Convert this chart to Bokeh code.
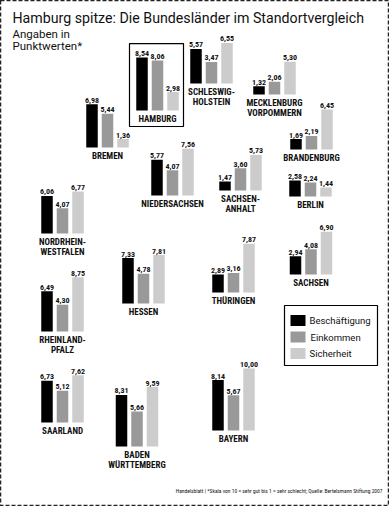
from bokeh.plotting import figure
from bokeh.models import ColumnDataSource, Range1d
from bokeh.core.properties import value
from bokeh.embed import file_html
from bokeh.resources import INLINE

# ---- data ----
states = ["HAMBURG", "SCHLESWIG-\nHOLSTEIN", "MECKLENBURG\nVORPOMMERN", "BREMEN", "BRANDENBURG",
          "NIEDERSACHSEN", "SACHSEN-\nANHALT", "BERLIN", "NORDRHEIN-\nWESTFALEN", "HESSEN",
          "THÜRINGEN", "SACHSEN", "RHEINLAND-\nPFALZ", "SAARLAND", "BADEN\nWÜRTTEMBERG", "BAYERN"]
beschaeftigung = [8.54, 5.57, 1.32, 6.98, 1.69, 5.77, 1.47, 2.58, 6.06, 7.33, 2.89, 2.94, 6.49, 6.73, 8.31, 8.14]
einkommen = [8.06, 3.47, 2.06, 5.44, 2.19, 4.07, 3.60, 2.24, 4.07, 4.78, 3.16, 4.08, 4.30, 5.12, 5.66, 5.67]
sicherheit = [2.98, 6.55, 5.30, 1.36, 6.45, 7.56, 5.73, 1.44, 6.77, 7.81, 7.87, 6.90, 8.75, 7.62, 9.59, 10.00]
series = ["Beschäftigung", "Einkommen", "Sicherheit"]

# ---- layout (map-like placement of each group, in page pixels) ----
group_x = [157, 211, 274, 107, 311, 172, 240, 310, 62, 143, 233, 310.5, 62, 62, 136.5, 233]
group_base = [110, 83, 94, 147, 149, 195, 190, 196, 233, 303, 292, 274, 331, 422, 446, 430]
colors = ["#000000", "#999999", "#cccccc"]
SCALE = 6.2      # pixels per score point
STEP = 15.5
BAR_W = 11.5
COND = "Roboto Condensed"

W, H = 389, 506
p = figure(width=W, height=H, output_backend="svg", toolbar_location=None,
           x_range=Range1d(0, W), y_range=Range1d(H, 0),
           min_border=0, background_fill_color="white", border_fill_color="white")
p.axis.visible = False
p.grid.visible = False
p.outline_line_color = "#222222"
p.outline_line_dash = "4 2"
p.outline_line_width = 1.5

bx, bb, bt, bc, lx, ly, lt = [], [], [], [], [], [], []
for i in range(len(states)):
    vals = [beschaeftigung[i], einkommen[i], sicherheit[i]]
    for j, v in enumerate(vals):
        x = group_x[i] + (j - 1) * STEP
        top = group_base[i] - v * SCALE
        bx.append(x); bb.append(group_base[i]); bt.append(top); bc.append(colors[j])
        lx.append(x); ly.append(top - 1.5); lt.append(f"{v:.2f}".replace(".", ","))

src = ColumnDataSource(dict(x=bx, bottom=bb, top=bt, color=bc))
p.vbar(x="x", width=BAR_W, bottom="bottom", top="top", color="color", source=src, line_width=0)

p.text(x=lx, y=ly, text=lt, text_align="center", text_baseline="bottom",
       text_font=value(COND), text_font_style="bold", text_font_size="8px", color="#111111")

# state names
nx, ny, nt = [], [], []
for i, s in enumerate(states):
    for k, line in enumerate(s.split("\n")):
        nx.append(group_x[i]); ny.append(group_base[i] + 8 + k * 10.5); nt.append(line)
p.text(x=nx, y=ny, text=nt, text_align="center", text_baseline="middle",
       text_font=value(COND), text_font_style="bold", text_font_size="9px", color="#111111")

# Hamburg highlight box
hb = 0
p.quad(left=group_x[hb] - 28, right=group_x[hb] + 26,
       top=group_base[hb] - max(beschaeftigung[hb], einkommen[hb], sicherheit[hb]) * SCALE - 14,
       bottom=group_base[hb] + 16, fill_alpha=0, line_color="black", line_width=1.2)

# title / subtitle
p.text(x=[12], y=[17], text=["Hamburg spitze: Die Bundesländer im Standortvergleich"],
       text_align="left", text_baseline="middle", text_font=value("Roboto"),
       text_font_size="14.2px", color="#111111")
p.text(x=[12, 12], y=[33, 45], text=["Angaben in", "Punktwerten*"],
       text_align="left", text_baseline="middle", text_font=value("Roboto"),
       text_font_size="11.5px", color="#111111")

# legend
p.quad(left=[284], right=[377], top=[305], bottom=[365], fill_color="white",
       line_color="black", line_width=1.2)
leg_y = [320, 336.5, 353]
p.quad(left=[290] * 3, right=[305] * 3, top=[y - 5.5 for y in leg_y], bottom=[y + 5.5 for y in leg_y],
       color=colors, line_width=0)
p.text(x=[309, 310, 309], y=leg_y, text=series, text_align="left", text_baseline="middle",
       text_font=value("Roboto"), text_font_size="9.5px", color="#111111")

# footnote
p.text(x=[382], y=[490], text=["Handelsblatt | *Skala von 10 = sehr gut bis 1 = sehr schlecht; Quelle: Bertelsmann Stiftung 2007"],
       text_align="right", text_baseline="middle", text_font=value(COND),
       text_font_size="5.5px", color="#111111")

open("out.html", "w").write(file_html(p, INLINE))
